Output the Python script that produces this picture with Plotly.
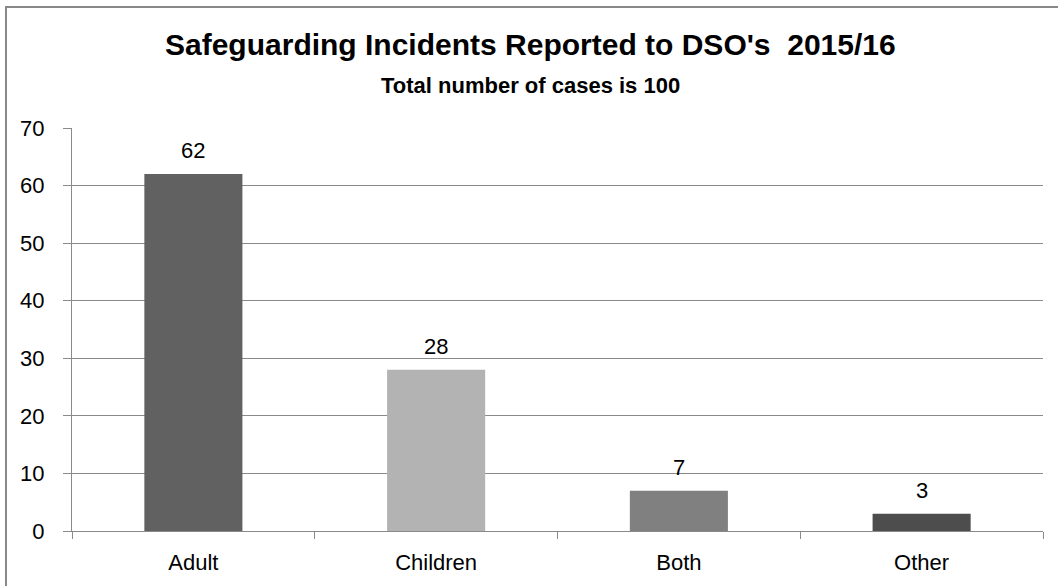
import plotly.graph_objects as go

categories = ["Adult", "Children", "Both", "Other"]
values = [62, 28, 7, 3]
bar_colors = ["#616161", "#b3b3b3", "#808080", "#4d4d4d"]
y_ticks = [0, 10, 20, 30, 40, 50, 60, 70]
title_text = "Safeguarding Incidents Reported to DSO's\u00a0\u00a02015/16"
subtitle_text = "Total number of cases is 100"

W, H = 1058, 586
ML, MR, MT, MB = 72, 15, 128, 55
PW, PH = W - ML - MR, H - MT - MB

def px_to_paper_x(px):
    return (px - ML) / PW

def px_to_paper_y(py):
    return (H - MB - py) / PH

FONT = "Liberation Sans, Arial, sans-serif"

fig = go.Figure()
fig.add_trace(go.Bar(
    x=categories, y=values, marker=dict(color=bar_colors, line=dict(width=0)),
    width=0.404, hoverinfo="skip",
))

for c, v in zip(categories, values):
    fig.add_annotation(x=c, y=v, text=str(v), showarrow=False, xref="x", yref="y",
                       yanchor="bottom", yshift=9,
                       font=dict(family=FONT, size=22, color="#000000"))

fig.add_annotation(x=px_to_paper_x(530), y=px_to_paper_y(45), xref="paper", yref="paper",
                   text="<b>" + title_text + "</b>", showarrow=False,
                   xanchor="center", yanchor="middle",
                   font=dict(family=FONT, size=30, color="#000000"))
fig.add_annotation(x=px_to_paper_x(530), y=px_to_paper_y(85), xref="paper", yref="paper",
                   text="<b>" + subtitle_text + "</b>", showarrow=False,
                   xanchor="center", yanchor="middle",
                   font=dict(family=FONT, size=22, color="#000000"))

# outer chart border (extends past right/bottom edges)
fig.add_shape(type="rect", xref="paper", yref="paper",
              x0=px_to_paper_x(6), x1=px_to_paper_x(W + 20),
              y0=px_to_paper_y(H + 20), y1=px_to_paper_y(7),
              line=dict(color="#888888", width=2), fillcolor="rgba(0,0,0,0)", layer="below")

fig.update_layout(
    width=W, height=H,
    margin=dict(l=ML, r=MR, t=MT, b=MB),
    paper_bgcolor="#ffffff", plot_bgcolor="#ffffff",
    showlegend=False,
    font=dict(family=FONT, size=22, color="#000000"),
    bargap=0.596,
)
fig.update_xaxes(
    type="category", categoryorder="array", categoryarray=categories,
    showgrid=False, showline=True, linecolor="#8a8a8a", linewidth=1,
    ticks="outside", tickson="boundaries", ticklen=7, tickcolor="#8a8a8a", tickwidth=1,
    ticklabelstandoff=12, tickfont=dict(family=FONT, size=22, color="#000000"),
    zeroline=False, fixedrange=True,
)
fig.update_yaxes(
    range=[0, 70], tickvals=y_ticks, ticktext=[str(t) for t in y_ticks],
    showgrid=True, gridcolor="#8a8a8a", gridwidth=1,
    showline=True, linecolor="#8a8a8a", linewidth=1,
    ticks="outside", ticklen=8, tickcolor="#8a8a8a", tickwidth=1,
    ticklabelstandoff=14, tickfont=dict(family=FONT, size=22, color="#000000"),
    zeroline=False, fixedrange=True,
)

fig.write_html("out.html", config={"displayModeBar": False})
